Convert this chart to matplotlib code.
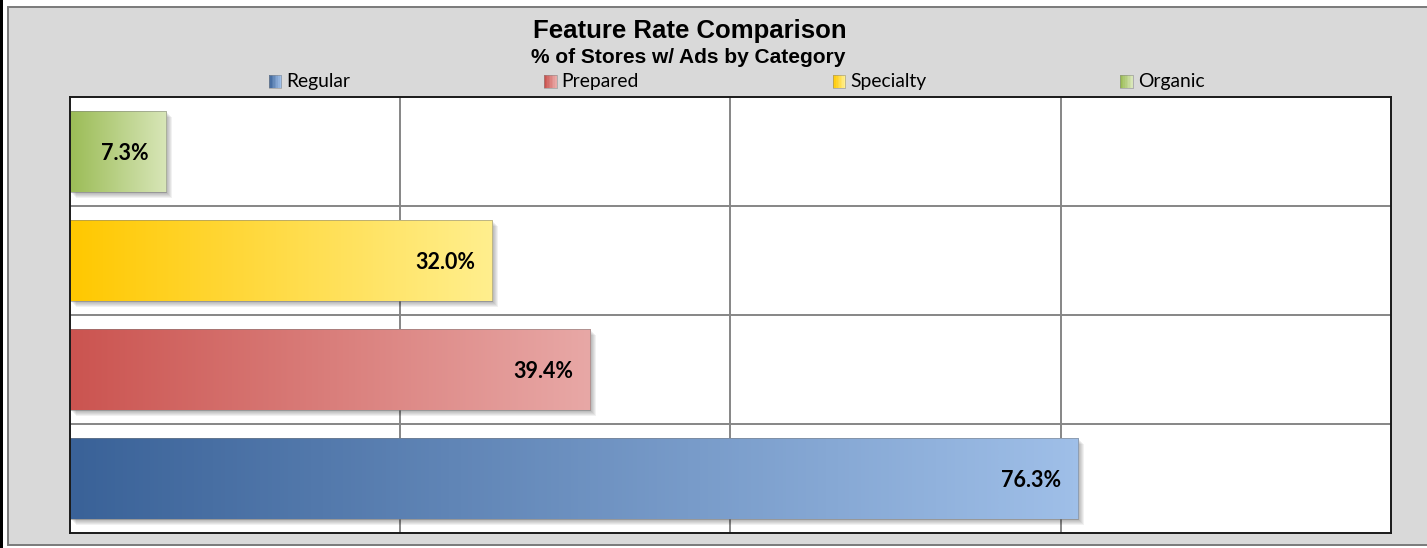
import matplotlib
matplotlib.use("Agg")
import matplotlib.pyplot as plt
import matplotlib.transforms as mtransforms
import numpy as np
from matplotlib.colors import LinearSegmentedColormap
from matplotlib.legend_handler import HandlerBase
from matplotlib.patches import Rectangle

# data, bottom row first
categories = ["Regular", "Prepared", "Specialty", "Organic"]
values = [76.3, 39.4, 32.0, 7.3]
labels = ["76.3%", "39.4%", "32.0%", "7.3%"]

# gradient end colours (dark left -> light right)
GRAD = {
    "Regular": ("#3A6298", "#9FBFE8"),
    "Prepared": ("#CB5450", "#E8A8A6"),
    "Specialty": ("#FFC800", "#FFEF8E"),
    "Organic": ("#9BBC56", "#D8E6B8"),
}
GRID = "#868686"
FRAME = "#D9D9D9"

W, H = 1427, 548


class GradientHandler(HandlerBase):
    def create_artists(self, legend, orig, xd, yd, width, height, fontsize, trans):
        c0, c1 = orig.grad
        cmap = LinearSegmentedColormap.from_list("g", [c0, c1])
        n = 8
        arts = []
        for i in range(n):
            r = Rectangle((xd + width * i / n, yd), width / n + 0.3, height,
                          facecolor=cmap(i / (n - 1)), edgecolor="none",
                          transform=trans)
            arts.append(r)
        arts.append(Rectangle((xd, yd), width, height, facecolor="none",
                              edgecolor="#8c8c8c", lw=0.4, transform=trans))
        return arts


def main():
    fig = plt.figure(figsize=(W / 100, H / 100), dpi=100)
    fig.patch.set_facecolor("white")

    # outer chart frame and the black strip at the far left
    fig.patches.append(Rectangle((8 / W, 1 - 545 / H), 1.0, (545 - 7) / H,
                                 transform=fig.transFigure, facecolor=FRAME,
                                 edgecolor="#7a7a7a", lw=1.4, zorder=0))
    fig.patches.append(Rectangle((0, 0), 3 / W, 1, transform=fig.transFigure,
                                 facecolor="black", edgecolor="none", zorder=1))

    ax = fig.add_axes([69.5 / W, 1 - 533 / H, (1391 - 69.5) / W, (533 - 97) / H])
    ax.set_facecolor("white")
    ax.set_zorder(2)

    ys = np.arange(len(categories))
    bh = 0.74
    grad = np.linspace(0, 1, 256).reshape(1, -1)

    for y, cat, v, lab in zip(ys, categories, values, labels):
        c0, c1 = GRAD[cat]
        cmap = LinearSegmentedColormap.from_list(cat, [c0, c1])
        # soft drop shadow
        for k in range(1, 7):
            tr = mtransforms.offset_copy(ax.transData, fig, x=k, y=-k, units="dots")
            ax.add_patch(Rectangle((0, y - bh / 2), v, bh, transform=tr,
                                   facecolor="black", edgecolor="none",
                                   alpha=0.055, zorder=2))
        ax.imshow(grad, extent=(0, v, y - bh / 2, y + bh / 2), aspect="auto",
                  cmap=cmap, interpolation="bicubic", zorder=3)
        ax.add_patch(Rectangle((0, y - bh / 2), v, bh, facecolor="none",
                               edgecolor="#7f7f7f", lw=0.6, alpha=0.6, zorder=4))
        ax.annotate(lab, xy=(v, y), xytext=(-17, 0), textcoords="offset pixels",
                    ha="right", va="center_baseline", fontsize=15.5,
                    fontweight="bold", family="Lato", color="black", zorder=5)

    ax.set_xlim(0, 100)
    ax.set_ylim(-0.5, len(categories) - 0.5)
    for x in (25, 50, 75):
        ax.axvline(x, color=GRID, lw=1.4, zorder=1)
    for y in np.arange(0.5, len(categories) - 0.5):
        ax.axhline(y, color=GRID, lw=1.4, zorder=1)
    ax.set_xticks([])
    ax.set_yticks([])
    for s in ax.spines.values():
        s.set_color("#1a1a1a")
        s.set_linewidth(1.4)
        s.set_zorder(6)

    fig.text(690 / W, 1 - 38 / H, "Feature Rate Comparison", ha="center",
             va="baseline", fontsize=18.5, fontweight="bold",
             family="Liberation Sans")
    fig.text(688 / W, 1 - 63 / H, "% of Stores w/ Ads by Category", ha="center",
             va="baseline", fontsize=15, fontweight="bold",
             family="Liberation Sans")

    handles = []
    for cat in categories:
        h = Rectangle((0, 0), 1, 1, label=cat)
        h.grad = GRAD[cat]
        handles.append(h)
    fig.legend(handles=handles, loc="center", bbox_to_anchor=(736.5 / W, 1 - 82 / H),
               ncol=4, frameon=False, prop={"family": "Lato", "size": 13.9},
               handlelength=0.65, handleheight=0.65, handletextpad=0.25,
               columnspacing=10.05, borderpad=0, borderaxespad=0,
               handler_map={Rectangle: GradientHandler()})

    fig.savefig("out.png", dpi=100, facecolor="white")
    plt.close(fig)


if __name__ == "__main__":
    main()
